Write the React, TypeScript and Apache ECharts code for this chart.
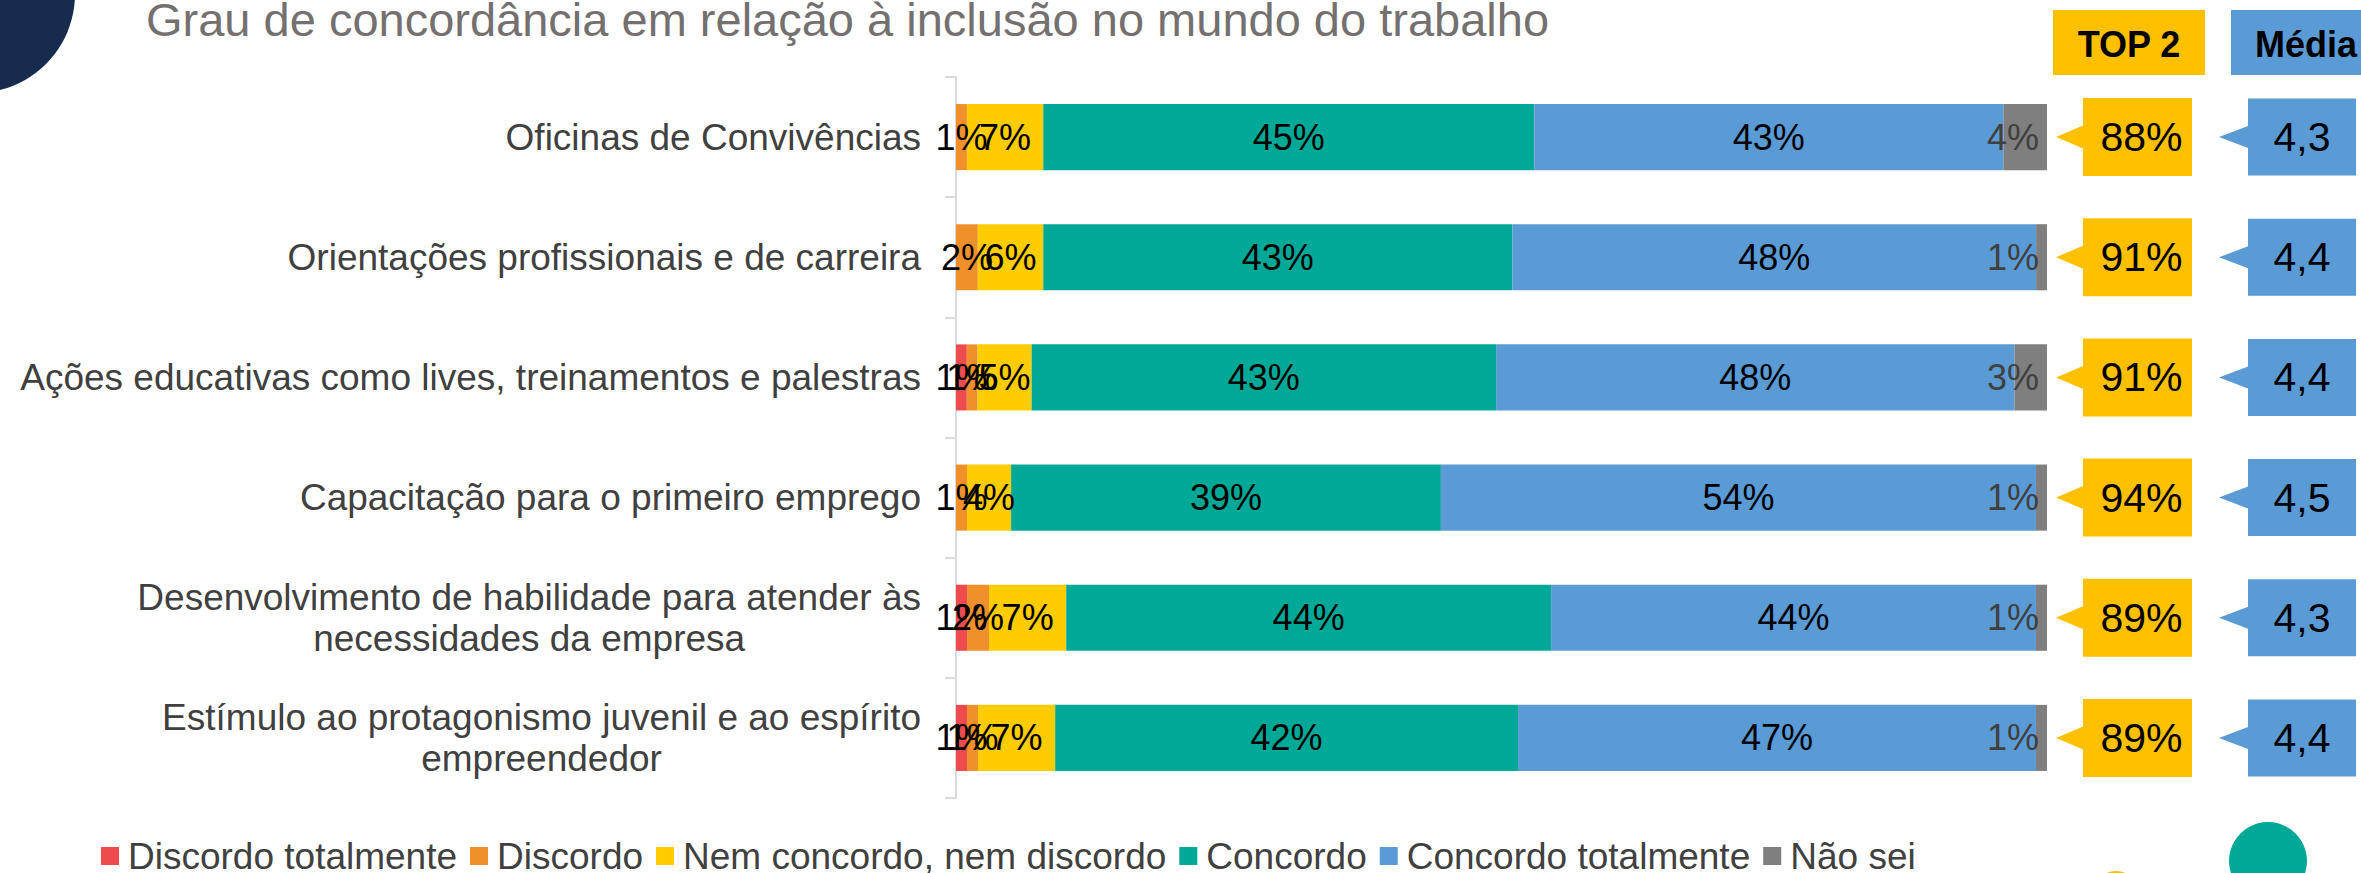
import React, { useEffect, useRef } from "react";
import * as echarts from "echarts";

const FONT = "'Liberation Sans', Arial, sans-serif";

const categories = [
  "Oficinas de Convivências",
  "Orientações profissionais e de carreira",
  "Ações educativas como lives, treinamentos e palestras",
  "Capacitação para o primeiro emprego",
  "Desenvolvimento de habilidade para atender às\nnecessidades da empresa",
  "Estímulo ao protagonismo juvenil e ao espírito\nempreendedor",
];

const seriesNames = [
  "Discordo totalmente",
  "Discordo",
  "Nem concordo, nem discordo",
  "Concordo",
  "Concordo totalmente",
  "Não sei",
];

const discordoTotalmente = [0, 0, 1, 0, 1, 1];
const discordo = [1, 2, 1, 1, 2, 1];
const nemConcordo = [7, 6, 5, 4, 7, 7];
const concordo = [45, 43, 43, 39, 44, 42];
const concordoTotalmente = [43, 48, 48, 54, 44, 47];
const naoSei = [4, 1, 3, 1, 1, 1];

const top2 = [88, 91, 91, 94, 89, 89];
const media = [4.3, 4.4, 4.4, 4.5, 4.3, 4.4];

const colors = ["#EE4B4E", "#F0902B", "#FFCC00", "#00A997", "#5B9BD5", "#7F7F7F"];

const allSeries = [discordoTotalmente, discordo, nemConcordo, concordo, concordoTotalmente, naoSei];

export default function App() {
  const ref = useRef<HTMLDivElement>(null);

  useEffect(() => {
    if (!ref.current) return;
    const chart = echarts.init(ref.current, undefined, { renderer: "svg" });

    const rowSums = categories.map((_, i) => allSeries.reduce((s, arr) => s + arr[i], 0));

    const barSeries = allSeries.map((arr, si) => ({
      name: seriesNames[si],
      type: "bar",
      stack: "total",
      barWidth: "55%",
      itemStyle: { color: colors[si] },
      data: arr.map((v, i) => (v / rowSums[i]) * 100),
      label: {
        show: true,
        position: si === 5 ? "insideRight" : "inside",
        distance: si === 5 ? 8 : 5,
        fontSize: 36,
        fontFamily: FONT,
        color: si === 5 ? "#404040" : "#000000",
        textBorderWidth: 0,
        textBorderColor: "transparent",
        formatter: (p: any) => (arr[p.dataIndex] ? arr[p.dataIndex] + "%" : ""),
      },
      emphasis: { disabled: true },
    }));

    const calloutSeries = {
      type: "custom",
      name: "callouts",
      silent: true,
      z: 5,
      encode: { x: 0, y: 1 },
      data: categories.map((_, i) => [100, i]),
      renderItem: (params: any, api: any) => {
        const i = params.dataIndex;
        const p = api.coord([api.value(0), api.value(1)]);
        const x0 = p[0];
        const y = p[1];
        const bx = x0 + 36;
        const bw = 109;
        const bh = 78;
        const mx = x0 + 201;
        const mw = 108;
        const mh = 77;
        return {
          type: "group",
          children: [
            {
              type: "polygon",
              shape: {
                points: [
                  [x0 + 9, y],
                  [bx, y - 11.5],
                  [bx, y - bh / 2],
                  [bx + bw, y - bh / 2],
                  [bx + bw, y + bh / 2],
                  [bx, y + bh / 2],
                  [bx, y + 11.5],
                ],
              },
              style: { fill: "#FFC000" },
            },
            {
              type: "text",
              style: {
                text: top2[i] + "%",
                x: bx + bw / 2 + 4,
                y: y,
                align: "center",
                verticalAlign: "middle",
                fontSize: 41,
                fontFamily: FONT,
                fill: "#000000",
              },
            },
            {
              type: "polygon",
              shape: {
                points: [
                  [x0 + 172, y],
                  [mx, y - 11],
                  [mx, y - mh / 2],
                  [mx + mw, y - mh / 2],
                  [mx + mw, y + mh / 2],
                  [mx, y + mh / 2],
                  [mx, y + 11],
                ],
              },
              style: { fill: "#5B9BD5" },
            },
            {
              type: "text",
              style: {
                text: media[i].toFixed(1).replace(".", ","),
                x: mx + mw / 2,
                y: y,
                align: "center",
                verticalAlign: "middle",
                fontSize: 41,
                fontFamily: FONT,
                fill: "#000000",
              },
            },
          ],
        };
      },
    };

    chart.setOption({
      animation: false,
      grid: { left: 956, right: 314, top: 77, bottom: 75, containLabel: false },
      xAxis: { type: "value", min: 0, max: 100, show: false },
      yAxis: {
        type: "category",
        data: categories,
        inverse: true,
        axisLine: { show: true, lineStyle: { color: "#D9D9D9", width: 2 } },
        axisTick: { show: true, length: 11, lineStyle: { color: "#D9D9D9", width: 2 } },
        axisLabel: {
          margin: 35,
          fontSize: 37,
          fontFamily: FONT,
          color: "#404040",
          lineHeight: 41,
          formatter: (v: string) =>
            v
              .split("\n")
              .map((l) => "{c|" + l + "}")
              .join("\n"),
          rich: {
            c: { fontSize: 37, fontFamily: FONT, color: "#404040", lineHeight: 41, align: "center" },
          },
        },
      },
      legend: {
        data: seriesNames,
        left: 96,
        top: 832,
        icon: "rect",
        itemWidth: 18,
        itemHeight: 18,
        itemGap: 13,
        textStyle: { fontSize: 37, lineHeight: 38, fontFamily: FONT, color: "#404040", padding: [0, 0, 0, 4] },
        selectedMode: false,
      },
      graphic: [
        { type: "circle", shape: { cx: -24, cy: -6, r: 99 }, style: { fill: "#172B4E" } },
        { type: "circle", shape: { cx: 2268, cy: 861, r: 39 }, style: { fill: "#00A997" } },
        { type: "circle", shape: { cx: 2116, cy: 893, r: 22 }, style: { fill: "#FFC000" } },
        {
          type: "text",
          x: 146,
          y: 19,
          style: {
            text: "Grau de concordância em relação à inclusão no mundo do trabalho",
            fontSize: 47,
            fontFamily: FONT,
            fill: "#757070",
            verticalAlign: "middle",
            align: "left",
          },
        },
        { type: "rect", shape: { x: 2053, y: 10, width: 152, height: 65 }, style: { fill: "#FFC000" } },
        {
          type: "text",
          x: 2129,
          y: 44,
          style: { text: "TOP 2", fontSize: 36, fontWeight: "bold", fontFamily: FONT, fill: "#000", align: "center", verticalAlign: "middle" },
        },
        { type: "rect", shape: { x: 2231, y: 10, width: 150, height: 65 }, style: { fill: "#5B9BD5" } },
        {
          type: "text",
          x: 2306,
          y: 44,
          style: { text: "Média", fontSize: 36, fontWeight: "bold", fontFamily: FONT, fill: "#000", align: "center", verticalAlign: "middle" },
        },
      ],
      series: [...barSeries, calloutSeries],
    });

    return () => chart.dispose();
  }, []);

  return (
    <div
      ref={ref}
      style={{ position: "fixed", left: 0, top: 0, width: "2361px", height: "873px", background: "#ffffff" }}
    />
  );
}
